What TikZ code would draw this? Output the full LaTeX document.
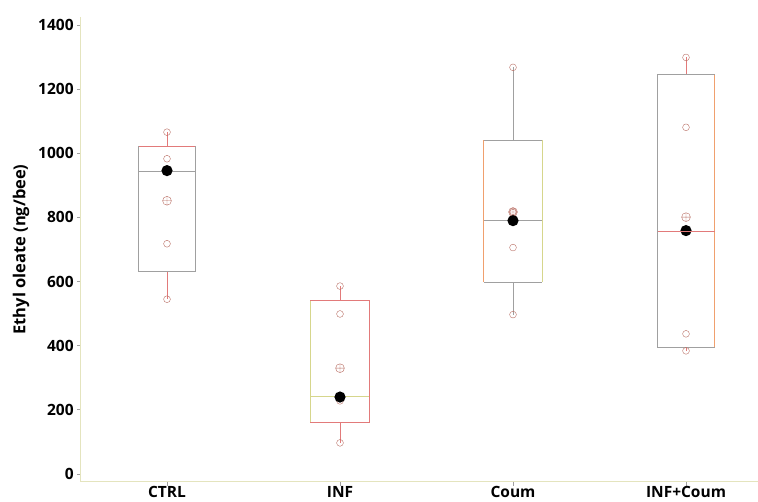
\documentclass[tikz,border=0pt]{standalone}
\usepackage{fontspec}
\setmainfont{Open Sans}
\usetikzlibrary{positioning}
\definecolor{bred}{RGB}{226,122,122}
\definecolor{bgray}{RGB}{160,160,160}
\definecolor{byel}{RGB}{214,214,140}
\definecolor{bora}{RGB}{240,160,110}
\definecolor{ptcol}{RGB}{185,110,100}
\definecolor{axcol}{RGB}{228,228,190}
\newcommand\dpt[2]{\draw[ptcol,thin] (#1,#2) circle (3.4pt);}
\newcommand\mnpt[2]{\draw[ptcol,thin] (#1,#2) circle (4.4pt) +(-4.4pt,0) -- +(4.4pt,0) +(0,-4.4pt) -- +(0,4.4pt);}
\newcommand\avgpt[2]{\fill[black] (#1,#2) circle (5.6pt);}

\begin{document}
\begin{tikzpicture}[x=1pt,y=1pt]
\useasboundingbox (0,0) rectangle (758,501);
\begin{scope}[yshift=27pt,y=0.3207pt,line width=0.8pt,font=\fontsize{15.5}{18}\selectfont\bfseries]
% axes
\draw[axcol,thick] (80,1425) -- (80,-24) -- (758,-24);
\foreach \v in {0,200,...,1400} {
  \draw[bgray] (77,\v) -- (80,\v);
  \node[anchor=east,inner sep=0] (t\v) at (74,\v) {\v};
}
\foreach \x/\n/\lab in {167/ctrl/CTRL,340/inf/INF,513/coum/Coum,686/infcoum/INF+Coum} {
  \draw[bgray] (\x,-24) -- (\x,-37);
  \node[anchor=base,inner sep=0] (\n) at (\x,-72) {\lab};
}
\node[rotate=90,inner sep=0,font=\fontsize{16.5}{19}\selectfont\bfseries] (ylab) at (21,700) {Ethyl oleate (ng/bee)};
% CTRL
\draw[bred] (167,1066) -- (167,1023) (138.3,1023) -- (195.7,1023) (167,631) -- (167,545);
\draw[bgray] (138.3,1023) -- (138.3,631) -- (195.7,631) -- (195.7,1023) (138.3,944) -- (195.7,944);
\foreach \v in {1066,983,718,545} {\dpt{167}{\v}}
\mnpt{167}{852}
\avgpt{167}{946}
% INF
\draw[bred] (340,586) -- (340,540) (310,540) -- (369.3,540) -- (369.3,162) -- (310,162) (340,162) -- (340,97);
\draw[byel] (310,540) -- (310,162) (310,241) -- (369.3,241);
\foreach \v in {586,499,228,97} {\dpt{340}{\v}}
\mnpt{340}{330}
\avgpt{340}{240}
% Coum
\draw[bgray] (513,1268) -- (513,1041) (483.7,1041) -- (542.3,1041) (483.7,598) -- (542.3,598) (513,598) -- (513,497) (483.7,790) -- (542.3,790);
\draw[bora] (483.7,1041) -- (483.7,598);
\draw[byel] (542.3,1041) -- (542.3,598);
\foreach \v in {1268,819,815,706,497} {\dpt{513}{\v}}
\mnpt{513}{817}
\avgpt{513}{790}
% INF+Coum
\draw[bred] (686,1299) -- (686,1245) (686,395) -- (686,384);
\draw[bgray] (714.7,1245) -- (657.7,1245) -- (657.7,395) -- (714.7,395);
\draw[bora] (714.7,1245) -- (714.7,395);
\foreach \v in {1299,1081,437,384} {\dpt{686}{\v}}
\mnpt{686}{801}
\avgpt{686}{759}
\draw[bred] (657.7,757) -- (714.7,757);
\end{scope}
\end{tikzpicture}
\end{document}
